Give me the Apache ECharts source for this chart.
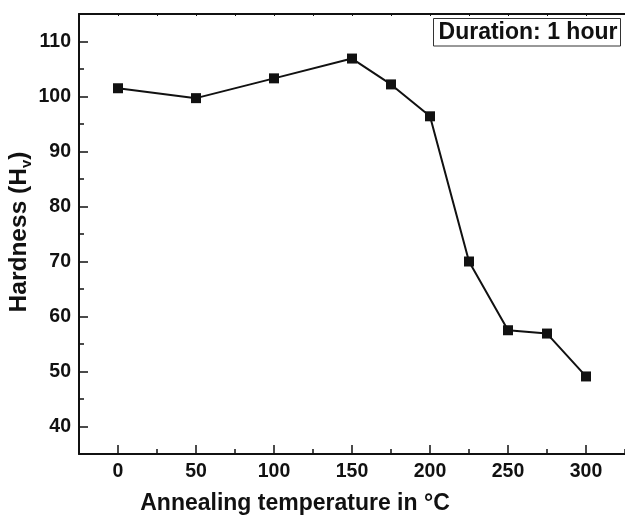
<!DOCTYPE html>
<html>
<head>
<meta charset="utf-8">
<script src="https://cdn.jsdelivr.net/npm/echarts@6/dist/echarts.min.js"></script>
<style>html,body{margin:0;padding:0;background:#fff;}#c{width:625px;height:515px;}</style>
</head>
<body>
<div id="c"></div>
<script>
const temperatures = [0, 50, 100, 150, 175, 200, 225, 250, 275, 300];
const hardness = [101.5, 99.7, 103.3, 106.9, 102.2, 96.4, 70.0, 57.5, 56.9, 49.1];
const xMajorTicks = [0, 50, 100, 150, 200, 250, 300];
const xMinorTicks = [25, 75, 125, 175, 225, 275, 325];
const xTopTicks = [0, 25, 50, 75, 100, 125, 150, 175, 200, 225, 250, 275, 300, 325];
const yMajorTicks = [40, 50, 60, 70, 80, 90, 100, 110];
const yMinorTicks = [45, 55, 65, 75, 85, 95, 105];
const xTitle = 'Annealing temperature in °C';
const yTitle = 'Hardness (H{sub|v})';
const boxLabel = 'Duration: 1 hour';

const FONT = 'Liberation Sans, Arial, Helvetica, sans-serif';
const INK = '#111';
const chart = echarts.init(document.getElementById('c'), null, {renderer: 'canvas'});
const xRange = {min: -25, max: 325};
const yRange = {min: 35, max: 115};
const noSplit = {show: false};

chart.setOption({
  animation: false,
  backgroundColor: '#fff',
  grid: {left: 79, right: -2, top: 14, bottom: 61, containLabel: false},
  xAxis: [
    {type: 'value', position: 'bottom', ...xRange, splitLine: noSplit,
     axisLine: {show: true, onZero: false, lineStyle: {color: INK, width: 2}},
     axisTick: {show: true, inside: true, length: 9, customValues: xMajorTicks, lineStyle: {color: INK, width: 1.5}},
     axisLabel: {show: true, customValues: xMajorTicks, margin: 8, color: INK, fontSize: 19.5, fontWeight: 'bold', fontFamily: FONT}},
    {type: 'value', position: 'bottom', ...xRange, splitLine: noSplit,
     axisLine: {show: false, onZero: false},
     axisTick: {show: true, inside: true, length: 5, customValues: xMinorTicks, lineStyle: {color: INK, width: 1.5}},
     axisLabel: {show: false}},
    {type: 'value', position: 'top', ...xRange, splitLine: noSplit,
     axisLine: {show: true, onZero: false, lineStyle: {color: INK, width: 2}},
     axisTick: {show: true, inside: true, length: 2, customValues: xTopTicks, lineStyle: {color: INK, width: 1}},
     axisLabel: {show: false}}
  ],
  yAxis: [
    {type: 'value', position: 'left', ...yRange, splitLine: noSplit,
     axisLine: {show: true, onZero: false, lineStyle: {color: INK, width: 2}},
     axisTick: {show: true, inside: true, length: 9, customValues: yMajorTicks, lineStyle: {color: INK, width: 1.5}},
     axisLabel: {show: true, customValues: yMajorTicks, margin: 8, color: INK, fontSize: 19.5, fontWeight: 'bold', fontFamily: FONT}},
    {type: 'value', position: 'left', ...yRange, splitLine: noSplit,
     axisLine: {show: false, onZero: false},
     axisTick: {show: true, inside: true, length: 5, customValues: yMinorTicks, lineStyle: {color: INK, width: 1.5}},
     axisLabel: {show: false}}
  ],
  series: [{
    type: 'line',
    xAxisIndex: 0, yAxisIndex: 0,
    data: temperatures.map((t, i) => [t, hardness[i]]),
    symbol: 'rect', symbolSize: 10,
    itemStyle: {color: INK},
    lineStyle: {color: INK, width: 2},
    z: 5
  }],
  graphic: [
    {type: 'rect', shape: {x: 433.5, y: 18.5, width: 187, height: 27.5},
     style: {fill: '#fff', stroke: '#333', lineWidth: 1}, z: 10},
    {type: 'text', x: 528, y: 32.5, z: 11,
     style: {text: boxLabel, fill: INK, font: 'bold 23px ' + FONT, align: 'center', verticalAlign: 'middle'}},
    {type: 'text', x: 295, y: 504,
     style: {text: xTitle, fill: INK, font: 'bold 23px ' + FONT, align: 'center', verticalAlign: 'middle'}},
    {type: 'text', x: 19, y: 232, rotation: Math.PI / 2,
     style: {text: yTitle, fill: INK, font: 'bold 24.5px ' + FONT, align: 'center', verticalAlign: 'middle',
       lineHeight: 30,
       rich: {sub: {fontSize: 15, fontWeight: 'bold', fontFamily: FONT, fill: INK, lineHeight: 15, verticalAlign: 'bottom'}}}}
  ]
});
</script>
</body>
</html>
